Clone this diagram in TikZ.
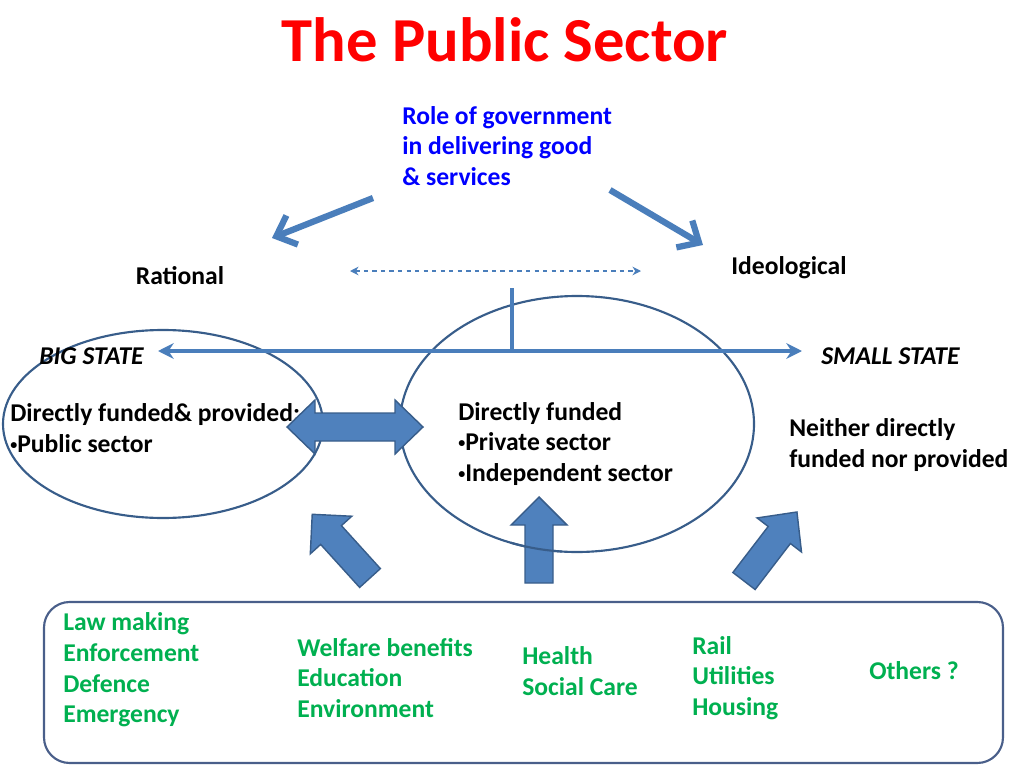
\documentclass[tikz,border=0pt]{standalone}
\usepackage{fontspec}
\setmainfont{Carlito}
\usetikzlibrary{arrows.meta}
\definecolor{arrowblue}{HTML}{4A7EBB}
\definecolor{fillblue}{HTML}{4F81BD}
\definecolor{edgeblue}{HTML}{385D8A}
\definecolor{boxblue}{HTML}{4A5F8A}
\definecolor{listgreen}{HTML}{00B050}
\newcommand{\bodyfont}{\fontsize{18}{21.6}\selectfont\bfseries}
\newcommand{\dotitem}{\raisebox{0.25ex}{\scalebox{0.55}{\textbullet}}}

\begin{document}
\begin{tikzpicture}[x=0.703pt, y=-0.703pt,
  txt/.style={font=\bodyfont, align=left, anchor=west, inner sep=0pt},
  green/.style={txt, text=listgreen},
  block/.style={fill=fillblue, draw=edgeblue, line width=1pt, line join=miter},
  oval/.style={draw=edgeblue, line width=1.5pt},
  choice/.style={arrowblue, line width=4.4pt, -{Straight Barb[length=12pt,width=22pt]}}]
  \useasboundingbox (0,0) rectangle (1024,768);

  % title and question
  \node[font=\fontsize{44}{52}\selectfont\bfseries, text=red] (title) at (505,40) {The Public Sector};
  \node[txt, text=blue] (role) at (402,146) {Role of government\\in delivering good\\\& services};

  \coordinate (roleL) at (373,198);
  \coordinate (roleR) at (610,190);
  \coordinate (tipL) at (272,238);
  \coordinate (tipR) at (703,245);
  \draw[choice] (roleL) -- (tipL);
  \draw[choice] (roleR) -- (tipR);

  \node[font=\bodyfont] (rational) at (180,276) {Rational};
  \node[font=\bodyfont] (ideological) at (789,268) {Ideological};

  \coordinate (dashL) at (350,271);
  \coordinate (dashR) at (641,271);
  \draw[arrowblue, line width=0.9pt, dashed, {Stealth[length=6pt,width=6pt]}-{Stealth[length=6pt,width=6pt]}] (dashL) -- (dashR);

  % the two states
  \begin{scope}
    \draw[oval] (163,424) ellipse (160 and 94);
    \draw[oval] (577,424) ellipse (177 and 128);
  \end{scope}

  \coordinate (pivot) at (512,288);
  \coordinate (scaleL) at (158,351);
  \coordinate (scaleR) at (802,351);
  \coordinate (scaleM) at (512,351);
  \draw[arrowblue, line width=2.5pt] (pivot) -- (scaleM);
  \draw[arrowblue, line width=2.5pt, {Stealth[length=11pt,width=11pt]}-{Stealth[length=11pt,width=11pt]}] (scaleL) -- (scaleR);

  \node[txt, font=\bodyfont\itshape] (big) at (39,356) {BIG STATE};
  \node[txt, font=\bodyfont\itshape] (small) at (821,356) {SMALL STATE};

  \node[txt] (public) at (10,428) {Directly funded\& provided:\\\dotitem Public sector};
  \node[txt] (private) at (458,444) {Directly funded\\\dotitem Private sector\\\dotitem Independent sector};
  \node[txt] (neither) at (789,445) {Neither directly\\funded nor provided};

  % block arrows
  \draw[block] (287,427) -- (315,400) -- (315,413) -- (395,413) -- (395,400)
    -- (423,427) -- (395,454) -- (395,441) -- (315,441) -- (315,454) -- cycle;
  \begin{scope}[shift={(370,578)}, rotate=132.2]
    \draw[block] (0,-14) -- (58,-14) -- (58,-28) -- (86,0) -- (58,28) -- (58,14) -- (0,14) -- cycle;
  \end{scope}
  \begin{scope}[shift={(539,583)}, rotate=90]
    \draw[block] (0,-14) -- (58,-14) -- (58,-28) -- (86,0) -- (58,28) -- (58,14) -- (0,14) -- cycle;
  \end{scope}
  \begin{scope}[shift={(744,581)}, rotate=52.5]
    \draw[block] (0,-14) -- (58,-14) -- (58,-28) -- (87,0) -- (58,28) -- (58,14) -- (0,14) -- cycle;
  \end{scope}
  \draw[oval] (577,424) ++(95:177 and 128) arc (95:112:177 and 128);

  % functions of government
  \draw[boxblue, line width=1.5pt, rounded corners=18pt] (44,602) rectangle (1003,763);
  \node[green] (law) at (63,670) {Law making\\Enforcement\\Defence\\Emergency};
  \node[green] (welfare) at (297,678) {Welfare benefits\\Education\\Environment};
  \node[green] (health) at (522,671) {Health\\Social Care};
  \node[green] (rail) at (692,678) {Rail\\Utilities\\Housing};
  \node[green] (others) at (869,671) {Others ?};
\end{tikzpicture}
\end{document}
